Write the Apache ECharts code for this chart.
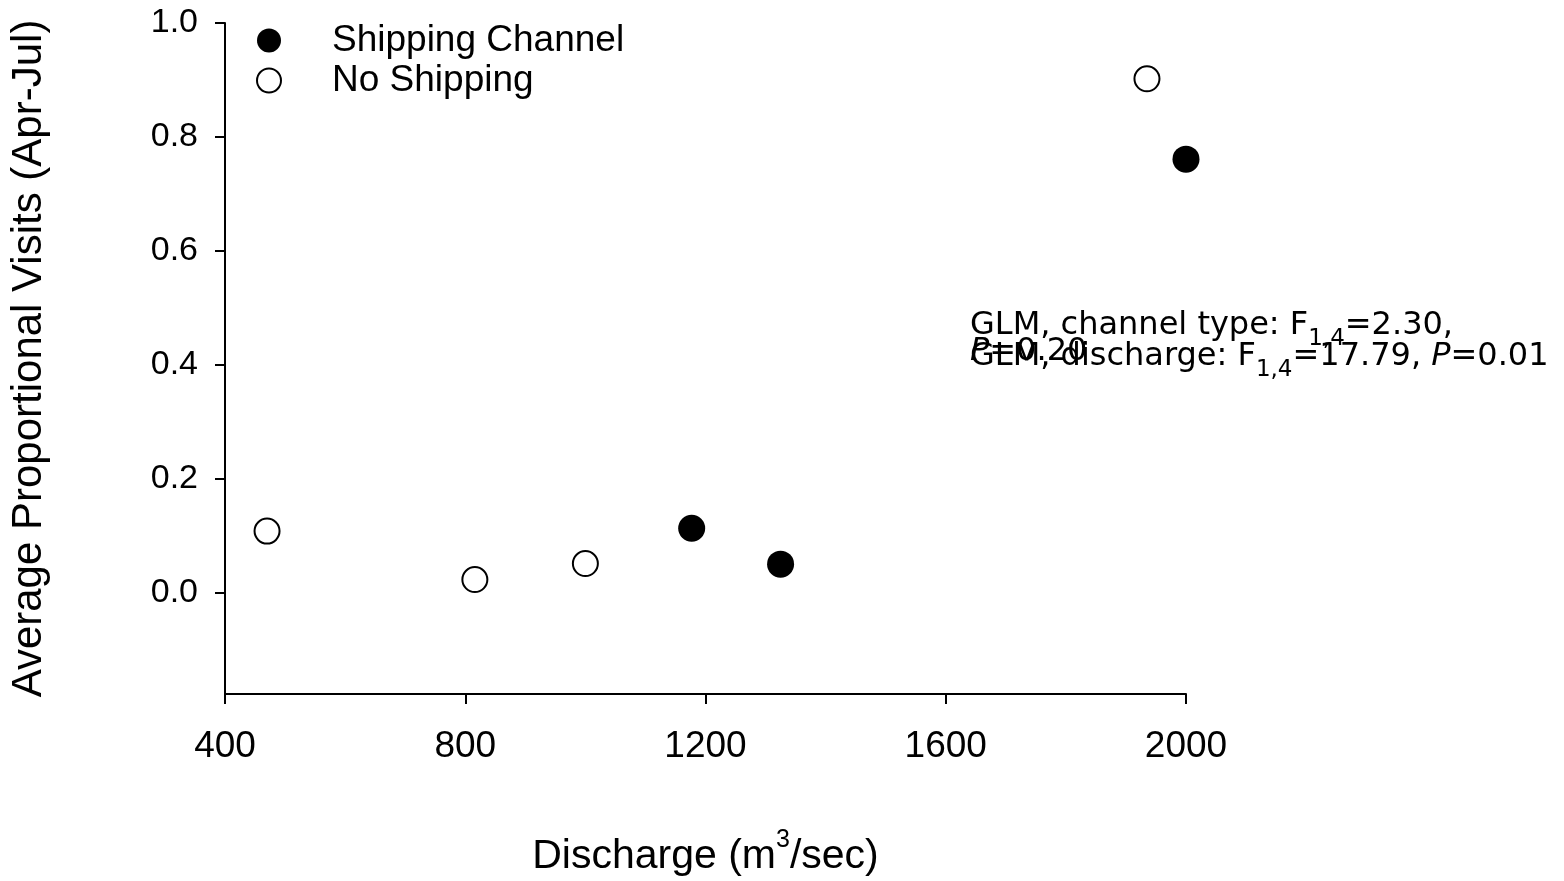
<!DOCTYPE html>
<html>
<head>
<meta charset="utf-8">
<script src="https://cdn.jsdelivr.net/npm/echarts@6/dist/echarts.min.js"></script>
<style>
html,body{margin:0;padding:0;background:#fff;}
#chart{width:1564px;height:881px;}
</style>
</head>
<body>
<div id="chart"></div>
<script>
// Data
const shippingDischarge = [1177, 1325, 2000];
const shippingVisits    = [0.113, 0.050, 0.761];
const noShippingDischarge = [470, 816, 1000, 1935];
const noShippingVisits    = [0.108, 0.023, 0.051, 0.902];
const xTicks = [400, 800, 1200, 1600, 2000];
const yTicks = [0.0, 0.2, 0.4, 0.6, 0.8, 1.0];
const seriesNames = ['Shipping Channel', 'No Shipping'];

const shipData = shippingDischarge.map((x, i) => [x, shippingVisits[i]]);
const noShipData = noShippingDischarge.map((x, i) => [x, noShippingVisits[i]]);

const SANS = "'Liberation Sans', Arial, sans-serif";
const ANN = "'DejaVu Sans', Verdana, sans-serif";

const chart = echarts.init(document.getElementById('chart'), null, {renderer: 'canvas'});
chart.setOption({
  animation: false,
  backgroundColor: '#ffffff',
  grid: {left: 225, right: 378, top: 23, bottom: 187, containLabel: false, outerBoundsMode: 'none'},
  legend: {
    orient: 'vertical',
    left: 256,
    top: 22,
    padding: 0,
    itemWidth: 24,
    itemHeight: 24,
    itemGap: 3,
    icon: 'circle',
    data: seriesNames,
    textStyle: {fontFamily: SANS, fontSize: 37, color: '#000', lineHeight: 36, padding: [0, 0, 0, 46]}
  },
  xAxis: {
    type: 'value',
    min: xTicks[0],
    max: xTicks[xTicks.length - 1],
    interval: 400,
    name: 'Discharge (m{sup|3}/sec)',
    nameLocation: 'middle',
    nameGap: 134,
    nameMoveOverlap: false,
    nameTextStyle: {
      fontFamily: SANS, fontSize: 41, color: '#000',
      rich: {sup: {fontFamily: SANS, fontSize: 25, color: '#000', padding: [0, 0, 32, 0]}}
    },
    axisLine: {show: true, onZero: false, lineStyle: {color: '#000', width: 2}},
    axisTick: {show: true, inside: false, length: 10, lineStyle: {color: '#000', width: 2}},
    axisLabel: {fontFamily: SANS, fontSize: 37, color: '#000', margin: 34, formatter: v => String(v)},
    splitLine: {show: false}
  },
  yAxis: {
    type: 'value',
    min: -0.178,
    max: 1.0,
    name: 'Average Proportional Visits (Apr-Jul)',
    nameLocation: 'middle',
    nameGap: 175,
    nameMoveOverlap: false,
    nameTextStyle: {fontFamily: SANS, fontSize: 42, color: '#000'},
    axisLine: {show: true, onZero: false, lineStyle: {color: '#000', width: 2}},
    axisTick: {show: true, inside: false, length: 10, lineStyle: {color: '#000', width: 2}, customValues: yTicks},
    axisLabel: {fontFamily: SANS, fontSize: 34, color: '#000', margin: 27, customValues: yTicks,
      formatter: v => Number(v).toFixed(1)},
    splitLine: {show: false}
  },
  series: [
    {
      name: seriesNames[0],
      type: 'scatter',
      clip: false,
      symbol: 'circle',
      symbolSize: 27,
      itemStyle: {color: '#000', borderColor: '#000', borderWidth: 0, opacity: 1},
      data: shipData
    },
    {
      name: seriesNames[1],
      type: 'scatter',
      clip: false,
      symbol: 'circle',
      symbolSize: 25,
      itemStyle: {color: '#fff', borderColor: '#000', borderWidth: 2, opacity: 1},
      data: noShipData
    }
  ],
  graphic: [
    {
      type: 'text', x: 970, y: 326, z: 100,
      style: {
        text: '{n|GLM, channel type: F}{s|1,4}{n|=2.30,}',
        align: 'left', verticalAlign: 'middle',
        rich: {
          n: {fontFamily: ANN, fontSize: 32, fill: '#000'},
          s: {fontFamily: ANN, fontSize: 23, fill: '#000', padding: [27, 0, 0, 0]}
        }
      }
    },
    {
      type: 'text', x: 970, y: 352, z: 100,
      style: {
        text: '{i|P}{n|=0.20}',
        align: 'left', verticalAlign: 'middle',
        rich: {
          n: {fontFamily: ANN, fontSize: 32, fill: '#000'},
          i: {fontFamily: ANN, fontSize: 32, fontStyle: 'italic', fill: '#000'}
        }
      }
    },
    {
      type: 'text', x: 970, y: 357, z: 100,
      style: {
        text: '{n|GLM, discharge: F}{s|1,4}{n|=17.79, }{i|P}{n|=0.01}',
        align: 'left', verticalAlign: 'middle',
        rich: {
          n: {fontFamily: ANN, fontSize: 32, fill: '#000'},
          i: {fontFamily: ANN, fontSize: 32, fontStyle: 'italic', fill: '#000'},
          s: {fontFamily: ANN, fontSize: 23, fill: '#000', padding: [27, 0, 0, 0]}
        }
      }
    }
  ]
});
</script>
</body>
</html>
